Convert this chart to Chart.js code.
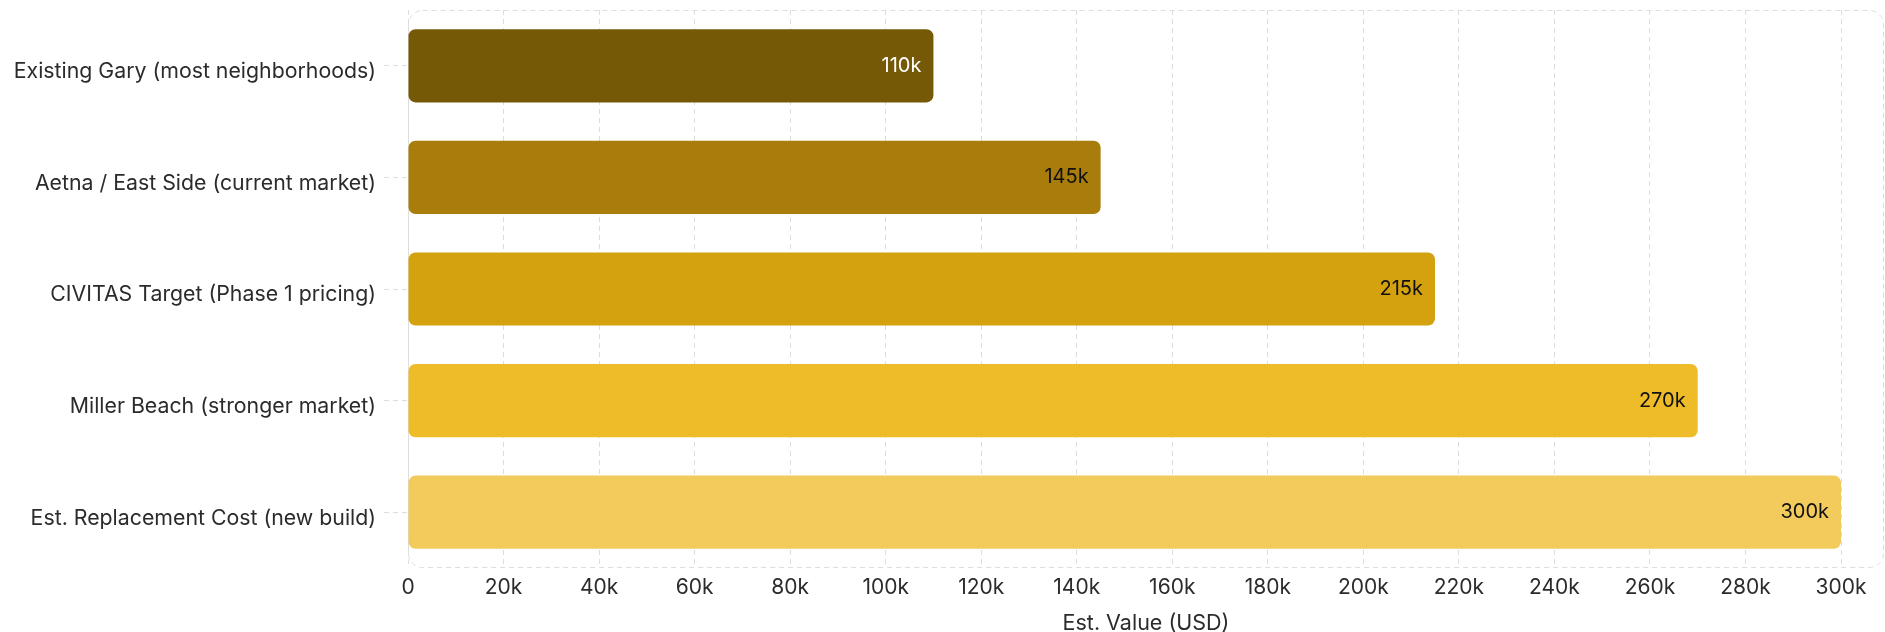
<!DOCTYPE html>
<html>
<head>
<meta charset="utf-8">
<script src="https://cdn.jsdelivr.net/npm/chart.js@4.4.1/dist/chart.umd.min.js"></script>
<style>
  html, body { margin: 0; padding: 0; background: #fff; }
  #wrap { width: 1885px; height: 632px; }
</style>
</head>
<body>
<div id="wrap"><canvas id="valueChart"></canvas></div>
<script>
// chart values
const categories = [
    'Existing Gary (most neighborhoods)',
    'Aetna / East Side (current market)',
    'CIVITAS Target (Phase 1 pricing)',
    'Miller Beach (stronger market)',
    'Est. Replacement Cost (new build)'
];
const values = [110000, 145000, 215000, 270000, 300000];
const valueLabels = ['110k', '145k', '215k', '270k', '300k'];
const tickValues = [0, 20000, 40000, 60000, 80000, 100000, 120000, 140000,
    160000, 180000, 200000, 220000, 240000, 260000, 280000, 300000];
const barColors = ['#765907', '#a87d0c', '#d4a10f', '#eebb29', '#f2cb5c'];
const labelColors = ['#ffffff', '#111111', '#111111', '#111111', '#111111'];
const axisTitle = 'Est. Value (USD)';

const FONT = 'Inter';
const gridColor = '#dddddd';
const textColor = '#2b2b2b';

// rounded dashed frame round the plot area
const framePlugin = {
    id: 'frame',
    beforeDatasetsDraw(chart) {
        const { ctx, chartArea: a } = chart;
        ctx.save();
        ctx.strokeStyle = gridColor;
        ctx.lineWidth = 1;
        ctx.setLineDash([5, 4]);
        ctx.beginPath();
        ctx.roundRect(a.left + 0.5, a.top + 0.5, a.right - a.left - 1, a.bottom - a.top - 1, 14);
        ctx.stroke();
        ctx.restore();
    }
};

// value text at the end of each bar
const valueTextPlugin = {
    id: 'valueText',
    afterDatasetsDraw(chart) {
        const { ctx } = chart;
        const meta = chart.getDatasetMeta(0);
        ctx.save();
        ctx.font = '20px ' + FONT;
        ctx.textAlign = 'right';
        ctx.textBaseline = 'middle';
        meta.data.forEach((bar, i) => {
            ctx.fillStyle = labelColors[i];
            ctx.fillText(valueLabels[i], bar.x - 12, bar.y);
        });
        ctx.restore();
    }
};

const ctx = document.getElementById('valueChart').getContext('2d');
new Chart(ctx, {
    type: 'bar',
    data: {
        labels: categories,
        datasets: [{
            data: values,
            backgroundColor: barColors,
            borderRadius: 7,
            borderSkipped: false,
            barPercentage: 0.82,
            categoryPercentage: 0.8,
        }],
    },
    options: {
        indexAxis: 'y',
        responsive: true,
        maintainAspectRatio: false,
        animation: false,
        layout: { padding: { top: 10, right: 1, left: 14, bottom: 0 } },
        plugins: {
            legend: { display: false },
            tooltip: { enabled: false },
        },
        scales: {
            x: {
                min: 0,
                max: 309000,
                border: { display: false, dash: [5, 4] },
                grid: {
                    color: gridColor,
                    drawTicks: false,
                },
                ticks: {
                    padding: 7,
                    color: textColor,
                    font: { family: FONT, size: 21 },
                    callback: v => v === 0 ? '0' : (v / 1000) + 'k',
                },
                afterBuildTicks: s => { s.ticks = tickValues.map(v => ({ value: v })); },
                title: {
                    display: true,
                    text: axisTitle,
                    color: textColor,
                    font: { family: FONT, size: 21.5, lineHeight: 1.1 },
                    padding: { top: 4, bottom: -3 },
                },
                afterFit: s => { s.height = 64; },
            },
            y: {
                border: { display: false, dash: [5, 4] },
                grid: {
                    color: gridColor,
                    offset: false,
                    drawOnChartArea: false,
                    tickLength: 24,
                    tickBorderDash: [5, 4],
                },
                ticks: {
                    padding: 8,
                    labelOffset: 6,
                    color: textColor,
                    font: { family: FONT, size: 21.3 },
                },
                afterFit: s => {
                    s.width = 394;
                    s.paddingTop = 0;
                    s.paddingBottom = 0;
                },
            },
        },
    },
    plugins: [framePlugin, valueTextPlugin],
});
</script>
</body>
</html>
